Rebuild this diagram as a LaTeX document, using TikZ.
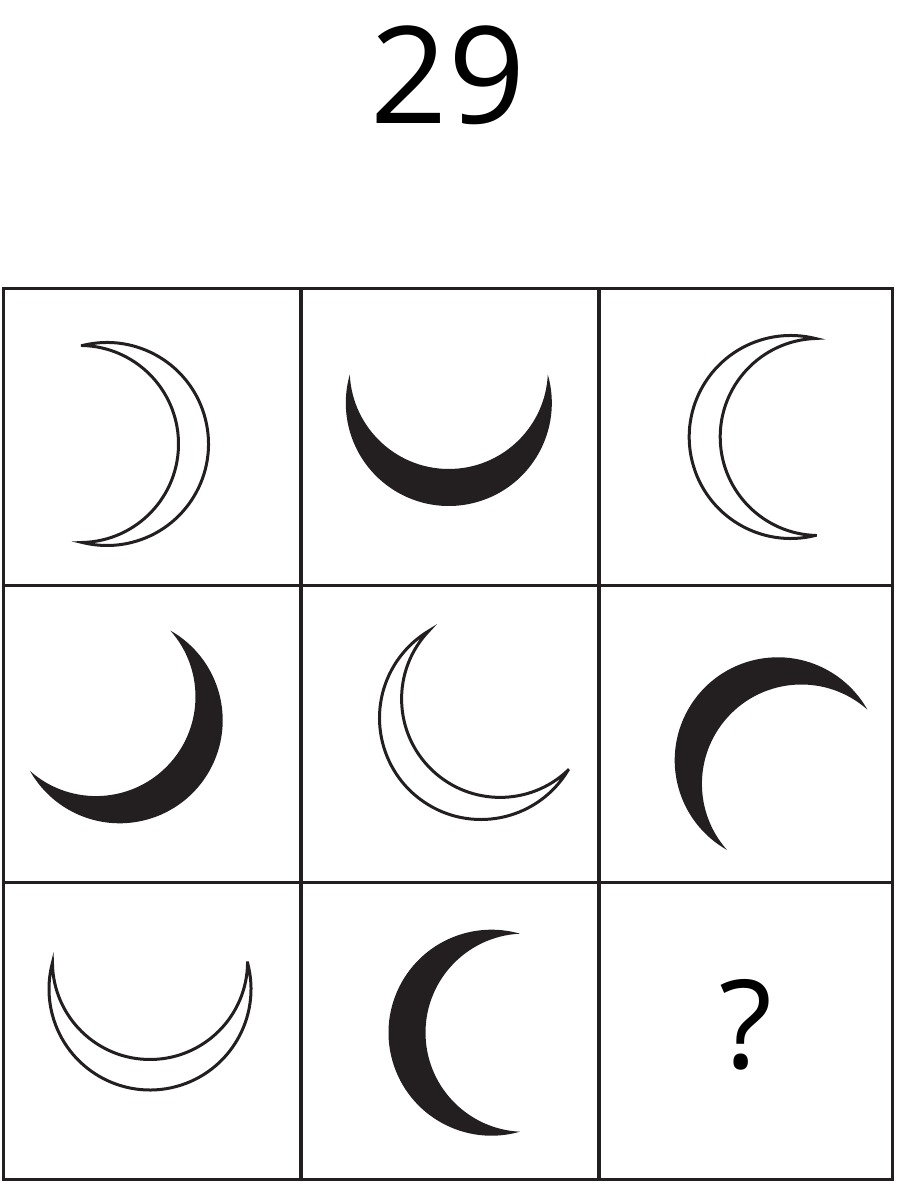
\documentclass[tikz,border=0pt]{standalone}
\usepackage{fontspec}
\setmainfont{Open Sans}
\definecolor{ink}{HTML}{231F20}
% crescent: #1 cx, #2 cy (image px, y down), #3 bulge direction (deg, y up),
% #4 outer radius, #5 tip angle, #6 thickness at middle, #7 style
\newcommand\crsc[7]{%
  \pgfmathsetmacro\crsP{#4*cos(#5)}%
  \pgfmathsetmacro\crsQ{#4*sin(#5)}%
  \pgfmathsetmacro\crsC{((#4-#6)^2-(#4)^2)/(2*(#4-#6-\crsP))}%
  \pgfmathsetmacro\crsR{#4-#6-\crsC}%
  \pgfmathsetmacro\crsB{atan2(\crsQ,\crsP-\crsC)}%
  \path[#7, shift={(#1,1182-#2)}, rotate=#3]
    (#5:#4) arc[start angle=#5, end angle=-#5, radius=#4]
    arc[start angle=-\crsB, end angle=\crsB, radius=\crsR] -- cycle;%
}
\begin{document}
\begin{tikzpicture}[x=1pt,y=1pt,
  gridline/.style={draw=ink,line width=3.5pt,line cap=rect},
  outlinecr/.style={draw=ink,line width=3pt,fill=white,line join=miter,miter limit=20},
  filledcr/.style={fill=ink},
  title/.style={font=\fontsize{135}{140}\selectfont,inner sep=0pt,text=black},
  qmark/.style={font=\fontsize{123}{128}\selectfont,inner sep=0pt,text=black}]
\useasboundingbox[fill=white] (0,0) rectangle (896,1182);

% title
\node[title] (t) at (448,1182-75) {29};

% grid
\draw[gridline] (3.3,2.7) rectangle (892.5,893.3);
\draw[gridline] (301,2.7) -- (301,893.3);
\draw[gridline] (598.8,2.7) -- (598.8,893.3);
\draw[gridline] (3.3,596.7) -- (892.5,596.7);
\draw[gridline] (3.3,299.3) -- (892.5,299.3);

% row 1
\crsc{107}{444}{0}{101.5}{104}{30}{outlinecr}
\crsc{448.8}{403}{-90}{103}{106}{37}{filledcr}
\crsc{790.7}{437}{180}{101.5}{104}{31}{outlinecr}
% row 2
\crsc{119.7}{720.3}{-45}{103}{105.5}{37}{filledcr}
\crsc{481}{718}{-135}{101.5}{104}{30}{outlinecr}
\crsc{777.7}{760.3}{135}{103}{105.5}{37}{filledcr}
% row 3
\crsc{150}{989}{-90}{101}{105}{30.5}{outlinecr}
\crsc{491.5}{1032.7}{180}{103}{106}{37}{filledcr}

\node[qmark] (q) at (746,1182-1025) {?};
\end{tikzpicture}
\end{document}
